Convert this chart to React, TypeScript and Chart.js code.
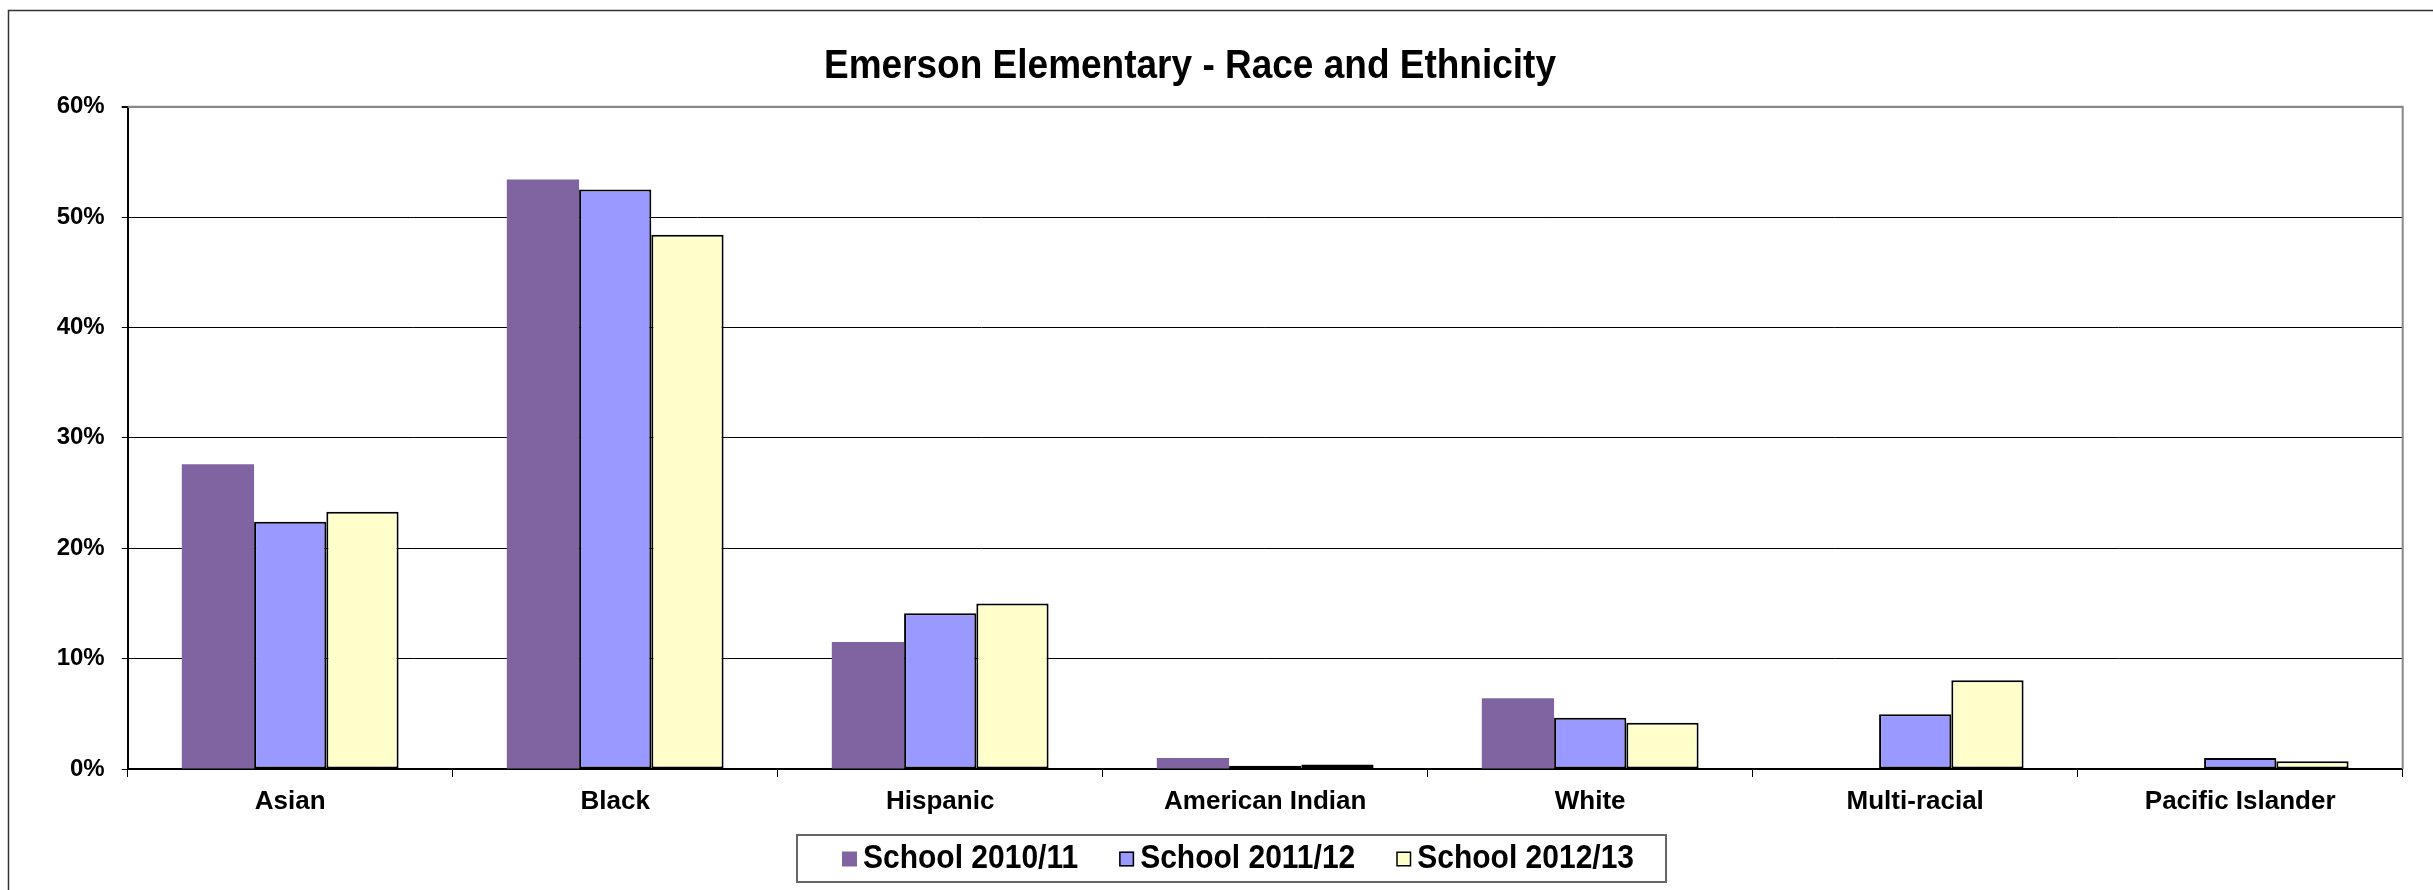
import React, { useEffect, useRef } from "react";
import { Chart, registerables } from "chart.js";

Chart.register(...registerables);

const chartTitle = "Emerson Elementary - Race and Ethnicity";
const categories = ["Asian", "Black", "Hispanic", "American Indian", "White", "Multi-racial", "Pacific Islander"];
const seriesLabels = ["School 2010/11", "School 2011/12", "School 2012/13"];
const school201011 = [27.6, 53.4, 11.5, 1.0, 6.4, null, null];
const school201112 = [22.4, 52.5, 14.1, 0.3, 4.65, 4.95, 1.0];
const school201213 = [23.3, 48.4, 15.0, 0.4, 4.2, 8.05, 0.7];
const yTicks = [0, 10, 20, 30, 40, 50, 60];

const seriesColors = ["#8064A2", "#9999FF", "#FFFFCC"];
const seriesBorders = [0, 2, 2];
const FONT = "'Liberation Sans', Arial, sans-serif";

function stretchedText(ctx: any, text: string, x: number, y: number, sy: number) {
  ctx.save();
  ctx.translate(x, y);
  ctx.scale(1, sy);
  ctx.fillText(text, 0, 0);
  ctx.restore();
}

const decorPlugin = {
  id: "decor",
  afterDraw(chart: any) {
    const ctx = chart.ctx;
    const area = chart.chartArea;
    ctx.save();
    // outer frame
    ctx.strokeStyle = "#333";
    ctx.lineWidth = 1.5;
    ctx.strokeRect(8.5, 10.5, 3000, 2000);
    // plot area top/right border
    ctx.strokeStyle = "#888";
    ctx.lineWidth = 2;
    ctx.beginPath();
    ctx.moveTo(area.left, area.top);
    ctx.lineTo(area.right, area.top);
    ctx.lineTo(area.right, area.bottom);
    ctx.stroke();
    // title
    ctx.fillStyle = "#000";
    ctx.font = `bold 37px ${FONT}`;
    ctx.textAlign = "center";
    ctx.textBaseline = "middle";
    stretchedText(ctx, chartTitle, 1190, 67, 1.1);
    // legend
    ctx.font = `bold 30px ${FONT}`;
    ctx.textAlign = "left";
    const boxL = 797, boxT = 835, boxR = 1666, boxB = 882;
    ctx.fillStyle = "#fff";
    ctx.fillRect(boxL, boxT, boxR - boxL, boxB - boxT);
    ctx.strokeStyle = "#666";
    ctx.lineWidth = 2;
    ctx.strokeRect(boxL, boxT, boxR - boxL, boxB - boxT);
    let x = 842;
    const cy = 859;
    chart.data.datasets.forEach((ds: any) => {
      const sq = 15;
      ctx.fillStyle = ds.backgroundColor;
      ctx.fillRect(x, cy - sq / 2, sq, sq);
      if (ds.borderWidth > 0) {
        ctx.strokeStyle = "#000";
        ctx.lineWidth = 1.5;
        ctx.strokeRect(x + 0.75, cy - sq / 2 + 0.75, sq - 1.5, sq - 1.5);
      }
      ctx.fillStyle = "#000";
      ctx.textBaseline = "middle";
      stretchedText(ctx, ds.label, x + 21, cy, 1.1);
      const w = ctx.measureText(ds.label).width;
      x = x + 21 + w + 41;
    });
    ctx.restore();
  },
};

export default function App() {
  const ref = useRef<HTMLCanvasElement | null>(null);
  useEffect(() => {
    document.body.style.margin = "0";
    document.body.style.overflow = "hidden";
    const seriesData = [school201011, school201112, school201213];
    const chart = new Chart(ref.current as HTMLCanvasElement, {
      type: "bar",
      data: {
        labels: categories,
        datasets: seriesLabels.map((label, i) => ({
          label,
          data: seriesData[i] as any,
          backgroundColor: seriesColors[i],
          borderColor: "#000",
          borderWidth: seriesBorders[i],
          borderSkipped: false,
          categoryPercentage: 0.667,
          barPercentage: 1.0,
        })),
      },
      options: {
        animation: false,
        responsive: true,
        maintainAspectRatio: false,
        layout: { padding: { left: 0, top: 106.7, right: 30.3, bottom: 71 } },
        plugins: { legend: { display: false }, title: { display: false }, tooltip: { enabled: false } },
        scales: {
          x: {
            grid: { display: true, drawOnChartArea: false, drawTicks: true, tickLength: 8, color: "#000", offset: true },
            border: { display: true, color: "#000", width: 2 },
            ticks: { color: "#000", font: { family: FONT, weight: "bold", size: 26 }, padding: 9, maxRotation: 0, autoSkip: false },
            afterFit: (s: any) => { s.height = 50; },
          },
          y: {
            min: yTicks[0],
            max: yTicks[yTicks.length - 1],
            afterBuildTicks: (s: any) => { s.ticks = yTicks.map((v) => ({ value: v })); },
            ticks: { color: "#000", font: { family: FONT, weight: "bold", size: 24 }, padding: 17, callback: (v: any) => v + "%" },
            grid: {
              color: (c: any) => (c.tick && c.tick.value === 60 ? "#888" : "#000"),
              lineWidth: (c: any) => (c.tick && c.tick.value === 60 ? 2 : 1),
              tickColor: "#000",
              tickLength: 6,
              drawTicks: true,
            },
            border: { display: true, color: "#000", width: 2 },
            afterFit: (s: any) => { s.width = 127.7; },
          },
        },
      } as any,
      plugins: [decorPlugin],
    });
    return () => chart.destroy();
  }, []);
  return (
    <div style={{ position: "relative", width: "2433px", height: "890px" }}>
      <canvas ref={ref} />
    </div>
  );
}
